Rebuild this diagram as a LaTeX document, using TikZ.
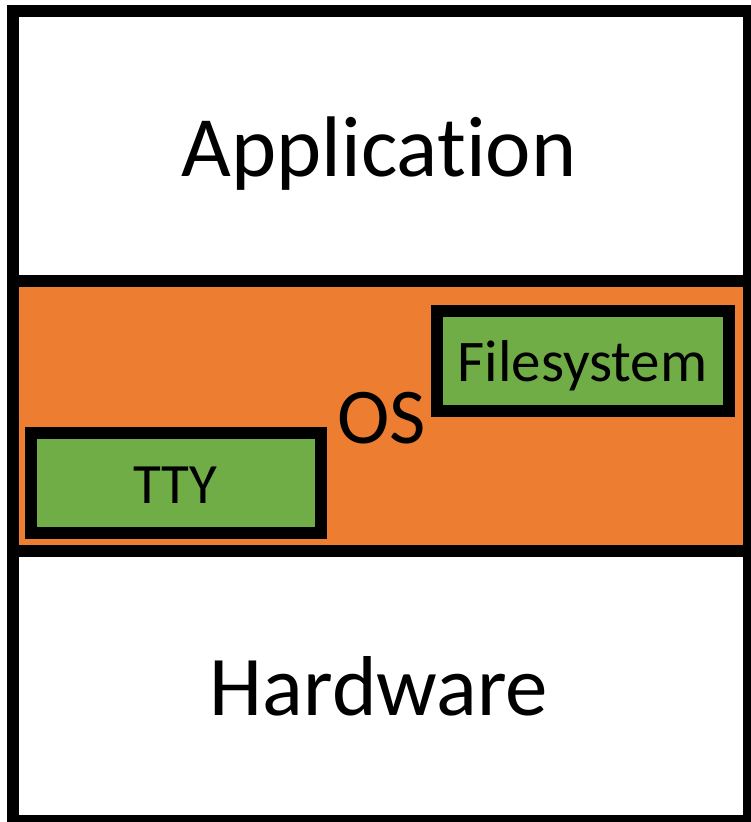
\documentclass[tikz,border=0pt]{standalone}
\usepackage{fontspec}
\setmainfont[Ligatures={NoCommon}]{Carlito}
\definecolor{osorange}{HTML}{ED7D31}
\definecolor{modgreen}{HTML}{70AD47}
\tikzset{
  layer/.style={draw=black, line width=12pt, rectangle, inner sep=0pt, minimum width=736pt},
  module/.style={draw=black, line width=12pt, rectangle, inner sep=0pt, fill=modgreen},
  lbl/.style={anchor=base, inner sep=0pt, text=black},
}
\begin{document}
\begin{tikzpicture}[x=1pt,y=-1pt]
\useasboundingbox (0,0) rectangle (751,822);
\node[layer, fill=white, minimum height=270.5pt] (app) at (381,145.75) {};
\node[layer, fill=white, minimum height=270pt] (hw) at (381,686) {};
\node[layer, fill=osorange, minimum height=270pt] (os) at (381,416) {};
\node[module, minimum width=290pt, minimum height=100pt] (tty) at (176,483) {};
\node[module, minimum width=292pt, minimum height=100pt] (fs) at (583,361) {};
\node[lbl, font=\fontsize{86}{90}\selectfont] (applbl) at (379,176) {Application};
\node[lbl, font=\fontsize{85}{90}\selectfont] (hwlbl) at (379,715) {Hardware};
\node[lbl, font=\fontsize{79}{84}\selectfont] (oslbl) at (382,443) {OS};
\node[lbl, font=\fontsize{57}{62}\selectfont] (ttylbl) at (175.5,503) {TTY};
\node[lbl, font=\fontsize{59}{64}\selectfont] (fslbl) at (582.5,381) {Filesystem};
\end{tikzpicture}
\end{document}
